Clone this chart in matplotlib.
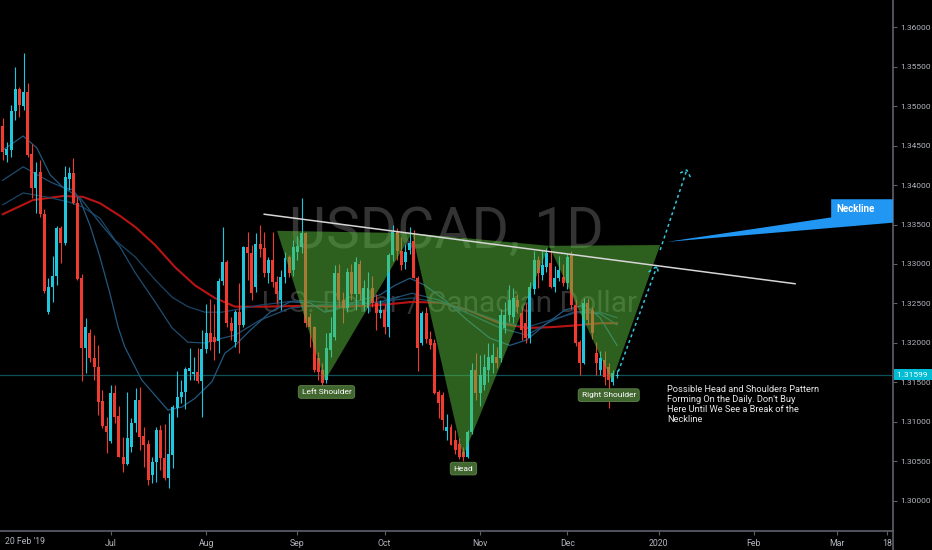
import matplotlib.pyplot as plt
import matplotlib.transforms as mtransforms
from matplotlib.lines import Line2D
import numpy as np
import pandas as pd

plt.rcParams['font.family'] = ['Roboto', 'DejaVu Sans']

# --- data (USDCAD daily) ---
start_date = '2019-05-24'
opens = [1.3475, 1.3438, 1.3444, 1.3494, 1.3522, 1.3500, 1.3518, 1.3439, 1.3396, 1.3416,
         1.3363, 1.3239, 1.3271, 1.3285, 1.3346, 1.3327, 1.3408, 1.3415, 1.3377, 1.3282,
         1.3194, 1.3213, 1.3181, 1.3170, 1.3127, 1.3095, 1.3076, 1.3137, 1.3108, 1.3056,
         1.3047, 1.3068, 1.3099, 1.3128, 1.3082, 1.3072, 1.3033, 1.3049, 1.3090, 1.3054,
         1.3029, 1.3058, 1.3118, 1.3132, 1.3138, 1.3165, 1.3161, 1.3163, 1.3152, 1.3192,
         1.3213, 1.3208, 1.3203, 1.3278, 1.3303, 1.3225, 1.3201, 1.3239, 1.3223, 1.3322,
         1.3314, 1.3271, 1.3325, 1.3320, 1.3289, 1.3305, 1.3277, 1.3254, 1.3284, 1.3309,
         1.3292, 1.3315, 1.3322, 1.3339, 1.3233, 1.3220, 1.3181, 1.3166, 1.3153, 1.3191,
         1.3208, 1.3289, 1.3255, 1.3244, 1.3290, 1.3262, 1.3300, 1.3248, 1.3244, 1.3270,
         1.3251, 1.3238, 1.3242, 1.3220, 1.3311, 1.3342, 1.3316, 1.3303, 1.3318, 1.3329,
         1.3282, 1.3200, 1.3238, 1.3205, 1.3200, 1.3138, 1.3134, 1.3089, 1.3094, 1.3077,
         1.3072, 1.3062, 1.3056, 1.3087, 1.3166, 1.3137, 1.3147, 1.3166, 1.3175, 1.3182,
         1.3181, 1.3219, 1.3235, 1.3233, 1.3255, 1.3238, 1.3225, 1.3206, 1.3268, 1.3305,
         1.3286, 1.3296, 1.3301, 1.3271, 1.3282, 1.3284, 1.3276, 1.3311, 1.3248, 1.3201,
         1.3175, 1.3251, 1.3242, 1.3187, 1.3166, 1.3178, 1.3170, 1.3150, 1.31585]
highs = [1.3485, 1.3454, 1.3501, 1.3549, 1.3524, 1.3567, 1.3529, 1.3452, 1.3429, 1.3432,
         1.3370, 1.3282, 1.3310, 1.3348, 1.3348, 1.3424, 1.3423, 1.3434, 1.3385, 1.3287,
         1.3232, 1.3218, 1.3210, 1.3197, 1.3141, 1.3106, 1.3147, 1.3147, 1.3120, 1.3081,
         1.3138, 1.3105, 1.3143, 1.3144, 1.3094, 1.3077, 1.3056, 1.3094, 1.3096, 1.3097,
         1.3111, 1.3122, 1.3165, 1.3153, 1.3170, 1.3194, 1.3182, 1.3194, 1.3216, 1.3249,
         1.3256, 1.3249, 1.3282, 1.3347, 1.3305, 1.3233, 1.3242, 1.3276, 1.3323, 1.3341,
         1.3324, 1.3339, 1.3349, 1.3341, 1.3309, 1.3341, 1.3285, 1.3292, 1.3315, 1.3311,
         1.3330, 1.3336, 1.3384, 1.3341, 1.3238, 1.3222, 1.3189, 1.3175, 1.3213, 1.3233,
         1.3299, 1.3300, 1.3265, 1.3295, 1.3300, 1.3309, 1.3305, 1.3280, 1.3290, 1.3285,
         1.3262, 1.3255, 1.3249, 1.3314, 1.3349, 1.3346, 1.3334, 1.3325, 1.3347, 1.3343,
         1.3285, 1.3240, 1.3245, 1.3215, 1.3205, 1.3140, 1.3138, 1.3110, 1.3097, 1.3090,
         1.3080, 1.3068, 1.3090, 1.3175, 1.3187, 1.3185, 1.3186, 1.3200, 1.3200, 1.3195,
         1.3243, 1.3252, 1.3273, 1.3270, 1.3262, 1.3245, 1.3250, 1.3277, 1.3316, 1.3310,
         1.3316, 1.3320, 1.3318, 1.3297, 1.3310, 1.3300, 1.3313, 1.3316, 1.3254, 1.3204,
         1.3257, 1.3257, 1.3245, 1.3201, 1.3190, 1.3190, 1.3175, 1.3166, 1.3166]
lows = [1.3432, 1.3429, 1.3435, 1.3482, 1.3486, 1.3495, 1.3435, 1.3384, 1.3365, 1.3359,
        1.3263, 1.3237, 1.3252, 1.3273, 1.3301, 1.3324, 1.3394, 1.3376, 1.3280, 1.3152,
        1.3162, 1.3176, 1.3153, 1.3109, 1.3092, 1.3061, 1.3073, 1.3099, 1.3056, 1.3037,
        1.3046, 1.3062, 1.3087, 1.3065, 1.3043, 1.3020, 1.3023, 1.3024, 1.3039, 1.3027,
        1.3016, 1.3042, 1.3106, 1.3124, 1.3116, 1.3153, 1.3153, 1.3149, 1.3106, 1.3187,
        1.3191, 1.3178, 1.3187, 1.3273, 1.3220, 1.3204, 1.3195, 1.3187, 1.3220, 1.3280,
        1.3254, 1.3265, 1.3309, 1.3284, 1.3276, 1.3271, 1.3250, 1.3242, 1.3276, 1.3284,
        1.3285, 1.3305, 1.3314, 1.3220, 1.3195, 1.3163, 1.3153, 1.3144, 1.3149, 1.3182,
        1.3204, 1.3245, 1.3225, 1.3239, 1.3255, 1.3242, 1.3255, 1.3240, 1.3238, 1.3245,
        1.3216, 1.3232, 1.3211, 1.3208, 1.3304, 1.3305, 1.3292, 1.3294, 1.3313, 1.3282,
        1.3165, 1.3197, 1.3200, 1.3192, 1.3135, 1.3105, 1.3090, 1.3077, 1.3071, 1.3060,
        1.3053, 1.3050, 1.3054, 1.3085, 1.3128, 1.3120, 1.3140, 1.3150, 1.3162, 1.3168,
        1.3176, 1.3213, 1.3227, 1.3225, 1.3238, 1.3204, 1.3200, 1.3200, 1.3262, 1.3270,
        1.3280, 1.3290, 1.3270, 1.3265, 1.3278, 1.3272, 1.3268, 1.3243, 1.3196, 1.3160,
        1.3173, 1.3224, 1.3205, 1.3160, 1.3160, 1.3147, 1.3118, 1.3147, 1.3156]
closes = [1.3442, 1.3446, 1.3494, 1.3522, 1.3501, 1.3518, 1.3438, 1.3396, 1.3416, 1.3363,
          1.3266, 1.3271, 1.3285, 1.3346, 1.3327, 1.3410, 1.3415, 1.3377, 1.3281, 1.3194,
          1.3220, 1.3181, 1.3170, 1.3125, 1.3095, 1.3087, 1.3137, 1.3106, 1.3056, 1.3047,
          1.3080, 1.3099, 1.3128, 1.3081, 1.3071, 1.3027, 1.3049, 1.3090, 1.3054, 1.3029,
          1.3059, 1.3119, 1.3132, 1.3138, 1.3167, 1.3168, 1.3163, 1.3152, 1.3192, 1.3213,
          1.3201, 1.3201, 1.3278, 1.3303, 1.3225, 1.3215, 1.3239, 1.3223, 1.3322, 1.3314,
          1.3263, 1.3325, 1.3319, 1.3289, 1.3305, 1.3277, 1.3262, 1.3284, 1.3308, 1.3289,
          1.3322, 1.3323, 1.3339, 1.3225, 1.3220, 1.3166, 1.3163, 1.3149, 1.3194, 1.3213,
          1.3289, 1.3255, 1.3244, 1.3290, 1.3262, 1.3303, 1.3262, 1.3270, 1.3270, 1.3251,
          1.3238, 1.3242, 1.3220, 1.3311, 1.3341, 1.3316, 1.3299, 1.3315, 1.3327, 1.3282,
          1.3194, 1.3238, 1.3205, 1.3198, 1.3137, 1.3124, 1.3103, 1.3094, 1.3071, 1.3065,
          1.3056, 1.3056, 1.3087, 1.3166, 1.3137, 1.3160, 1.3170, 1.3182, 1.3185, 1.3175,
          1.3235, 1.3235, 1.3254, 1.3257, 1.3245, 1.3216, 1.3206, 1.3271, 1.3305, 1.3289,
          1.3299, 1.3314, 1.3271, 1.3282, 1.3292, 1.3276, 1.3309, 1.3248, 1.3200, 1.3175,
          1.3251, 1.3229, 1.3213, 1.3175, 1.3181, 1.3157, 1.3153, 1.3162, 1.31599]

last_price = 1.31599

# moving averages, sampled (bar index, price)
ma_fast_x = [0, 4.9, 8.2, 11.4, 14.5, 16.9, 18.6, 21, 23.4, 25.8, 27.8, 29.4, 33.5, 39.8, 43.2,
             46.3, 50.4, 53.5, 56, 59.6, 64.4, 69.2, 74, 77.6, 81.2, 86.1, 90.9, 94.5, 98.1,
             101.7, 106.6, 111.9, 117.4, 122.2, 126.3, 130.6, 135.5, 140.3, 143.9, 148]
ma_fast_y = [1.3444, 1.3462, 1.3447, 1.3413, 1.3397, 1.3394, 1.3381, 1.3349, 1.3309, 1.3263,
             1.3220, 1.3195, 1.3153, 1.3115, 1.3119, 1.3130, 1.3151, 1.3187, 1.3197, 1.3216,
             1.3239, 1.3252, 1.3251, 1.3239, 1.3244, 1.3254, 1.3261, 1.3273, 1.3282, 1.3273,
             1.3254, 1.3229, 1.3206, 1.3197, 1.3204, 1.3223, 1.3242, 1.3248, 1.3232, 1.3197]
ma_mid_x = [0, 4.9, 11.4, 14.5, 18.6, 23.4, 28.2, 31.9, 36.7, 40.8, 44.6, 48.7, 52.8, 56, 62,
            69.2, 76.4, 83.7, 90.9, 98.6, 105.4, 111.9, 119.8, 126.3, 131.9, 137.9, 143.9, 148]
ma_mid_y = [1.3406, 1.3423, 1.3404, 1.3397, 1.3384, 1.3352, 1.3322, 1.3289, 1.3252, 1.3219,
            1.3201, 1.3200, 1.3206, 1.3210, 1.3229, 1.3244, 1.3248, 1.3248, 1.3252, 1.3263,
            1.3254, 1.3238, 1.3219, 1.3210, 1.3227, 1.3240, 1.3237, 1.3223]
ma_slow_x = [0, 4.9, 11.4, 16.2, 19.3, 23.4, 27.1, 31.9, 36.7, 40.8, 44.6, 48.7, 52.8, 56, 62,
             71.6, 78.8, 88.5, 98.6, 105.4, 111.9, 119.8, 126.3, 131.9, 137.9, 143.9, 148]
ma_slow_y = [1.3375, 1.3390, 1.3384, 1.3378, 1.3372, 1.3358, 1.3330, 1.3309, 1.3280, 1.3258,
             1.3246, 1.3239, 1.3239, 1.3242, 1.3248, 1.3254, 1.3251, 1.3251, 1.3257, 1.3251,
             1.3242, 1.3227, 1.3220, 1.3229, 1.3238, 1.3239, 1.3232]
ma_red_x = [0, 7.3, 14.5, 19.3, 23.4, 28.2, 31.9, 36.7, 41.5, 46.3, 51.1, 56, 63.2, 71.6, 82.4,
            90.9, 98.6, 105.4, 111.9, 119.8, 126.3, 131.9, 137.4, 143.9, 148]
ma_red_y = [1.3363, 1.3381, 1.3386, 1.3385, 1.3377, 1.3361, 1.3347, 1.3324, 1.3296, 1.3273,
            1.3257, 1.3246, 1.3246, 1.3247, 1.3246, 1.3248, 1.3252, 1.3251, 1.3242, 1.3225,
            1.3219, 1.3220, 1.3222, 1.3225, 1.3225]

# head and shoulders drawing points (bar index, price)
hs_x = [66.1, 77.6, 98.6, 110.9, 131.6, 146.8, 158.4]
hs_y = [1.3342, 1.3152, 1.3339, 1.3056, 1.3323, 1.3152, 1.3324]
neck_x = [63, 190.9]
neck_y = [1.3363, 1.3275]

tick_dates = ['2019-07-01', '2019-08-01', '2019-09-02', '2019-10-01', '2019-11-01',
              '2019-12-02', '2020-01-01', '2020-02-03', '2020-03-02', '2020-03-18']
tick_labels = ['Jul', 'Aug', 'Sep', 'Oct', 'Nov', 'Dec', '2020', 'Feb', 'Mar', '18']

note = ("Possible Head and Shoulders Pattern\nForming On the Daily. Don't Buy\n"
        "Here Until We See a Break of the\nNeckline")

# --- figure ---
o = np.array(opens); h = np.array(highs); l = np.array(lows); c = np.array(closes)
idx = np.arange(len(c))
dates = pd.bdate_range(start_date, periods=240)
tick_pos = dates.get_indexer(pd.to_datetime(tick_dates))

fig = plt.figure(figsize=(9.32, 5.5), dpi=100, facecolor='black')
ax = fig.add_axes([0, 19/550, 893/932, 531/550])
ax.set_facecolor('black')
ax.set_xlim(-0.67, 214.5)
ax.set_ylim(1.29620, 1.36342)

# watermark
ax.text(0.500, 0.563, 'USDCAD, 1D', transform=ax.transAxes, fontsize=41,
        color='#333333', ha='center', va='center', zorder=0)
ax.text(0.503, 0.4275, 'U.S. Dollar / Canadian Dollar', transform=ax.transAxes,
        fontsize=21.5, color='#333333', ha='center', va='center', zorder=0)

ax.axhline(last_price, color='#0f5057', lw=0.9, zorder=1)

ax.plot(ma_red_x, ma_red_y, color='#b81414', lw=1.5, zorder=2)
ax.plot(ma_slow_x, ma_slow_y, color='#1a4566', lw=0.9, zorder=2)
ax.plot(ma_mid_x, ma_mid_y, color='#1d4e73', lw=0.9, zorder=2)
ax.plot(ma_fast_x, ma_fast_y, color='#22587f', lw=0.9, zorder=2)

# candles
up = c >= o
col = np.where(up, '#1fc6dc', '#ef3b30')
ax.vlines(idx, l, h, colors=col, lw=0.8, zorder=3)
ax.bar(idx, np.maximum(np.abs(c - o), 0.00012), bottom=np.minimum(o, c), width=0.72,
       color=col, lw=0, zorder=4)

# pattern
for a, b, m in [(0, 2, 1), (2, 4, 3), (4, 6, 5)]:
    ax.fill([hs_x[a], hs_x[m], hs_x[b]], [hs_y[a], hs_y[m], hs_y[b]],
            color='#5abe3c', alpha=0.5, lw=0, zorder=5)
ax.plot(neck_x, neck_y, color='#d6d6d6', lw=1.1, zorder=6)

lab = dict(fontsize=6, color='white', ha='center', va='center', zorder=9,
           bbox=dict(boxstyle='round,pad=0.4,rounding_size=0.3', fc='#41662f', ec='#5d8848', lw=0.6))
ax.text(78, 1.3138, 'Left Shoulder', **lab)
ax.text(111, 1.3041, 'Head', **lab)
ax.text(146, 1.3134, 'Right Shoulder', **lab)

# dashed projection arrow
dash = dict(color='#35c6dc', lw=1.1, ls=(0, (2, 2)), zorder=7)
ax.plot([148.3, 157.6], [1.31637, 1.32966], **dash)
ax.plot([155.6, 157.6, 158.1], [1.3290, 1.3297, 1.3287], **dash)
ax.plot([158.4, 164.8], [1.33177, 1.34190], **dash)
ax.plot([163.2, 164.8, 165.8], [1.34152, 1.34190, 1.34089], **dash)

# neckline callout
ax.fill([160, 199.6, 199.6, 216, 216], [1.3328, 1.3359, 1.3382, 1.3382, 1.3353],
        color='#2196f3', lw=0, zorder=8)
ax.text(200.8, 1.3369, 'Neckline', fontsize=7, fontweight='bold', color='white',
        ha='left', va='center', zorder=9)

ax.text(160, 1.31468, note, fontsize=6.7, color='#e8e8e8', ha='left', va='top',
        linespacing=1.12, zorder=9)

# axes
for s in ['top', 'left']:
    ax.spines[s].set_visible(False)
for s in ['right', 'bottom']:
    ax.spines[s].set_color('#5d606b')
    ax.spines[s].set_linewidth(1.2)
ax.yaxis.tick_right()
ax.set_yticks(np.arange(1.30, 1.36001, 0.005))
ax.set_yticklabels(['%.5f' % v for v in np.arange(1.30, 1.36001, 0.005)])
ax.set_xticks(tick_pos)
ax.set_xticklabels(tick_labels)
ax.tick_params(axis='y', length=3, width=0.8, color='#5d606b', pad=2, labelsize=6,
               labelcolor='#b2b5be')
ax.tick_params(axis='x', length=3, width=0.8, color='#5d606b', pad=3, labelsize=6.3,
               labelcolor='#b2b5be')

trans = mtransforms.blended_transform_factory(ax.transAxes, ax.transData)
ax.text(1.004, last_price, '1.31599 ', transform=trans, ha='left', va='center', fontsize=6,
        color='white', clip_on=False, zorder=20,
        bbox=dict(boxstyle='square,pad=0.3', fc='#00bcd4', ec='none'))
fig.text(5/932, 9/550, "20 Feb '19", fontsize=6.3, color='#b2b5be', ha='left', va='center')
fig.add_artist(Line2D([893/932, 893/932], [0, 19/550], color='#5d606b', lw=1.2))

fig.savefig('out.png', dpi=100, facecolor='black')
